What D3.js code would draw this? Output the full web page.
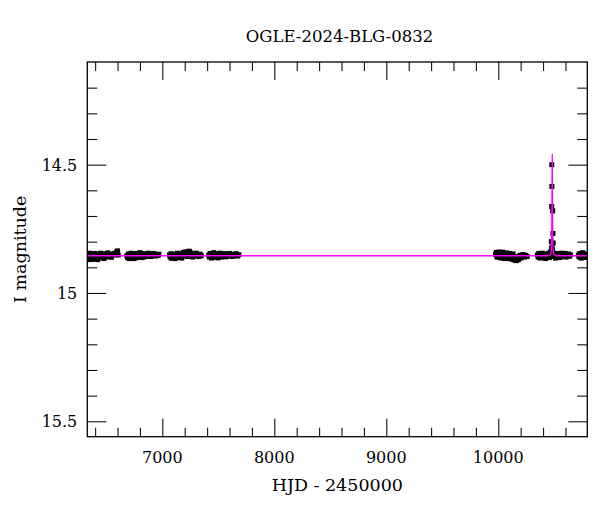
<!DOCTYPE html>
<html lang="en">
<head>
  <meta charset="UTF-8">
  <title>OGLE-2024-BLG-0832</title>
  <script src="https://d3js.org/d3.v7.min.js"></script>
  <style>
    body { margin: 0; background: #fff; }
    svg text { font-family: "DejaVu Serif", serif; fill: #000; }
  </style>
</head>
<body>
<svg id="chart" width="600" height="512"></svg>
<script>
  // photometry, [HJD - 2450000, I mag]
  const season1 = [[6338,14.866],[6344,14.870],[6350,14.845],[6356,14.858],[6362,14.868],[6368,14.848],[6374,14.856],[6380,14.869],[6386,14.851],[6392,14.860],[6398,14.846],[6405,14.864],[6411,14.853],[6417,14.858],[6423,14.870],[6429,14.849],[6436,14.857],[6442,14.863],[6448,14.845],[6454,14.855],[6460,14.861],[6467,14.850],[6473,14.858],[6479,14.866],[6486,14.847],[6492,14.854],[6499,14.860],[6506,14.852],[6513,14.844],[6520,14.858],[6528,14.849],[6536,14.855],[6545,14.861],[6556,14.850],[6568,14.846],[6580,14.852],[6592,14.840],[6600,14.836],[6606,14.852]];
  const season2 = [[6684,14.855],[6690,14.862],[6697,14.848],[6703,14.866],[6710,14.852],[6716,14.859],[6722,14.845],[6729,14.863],[6735,14.853],[6741,14.866],[6748,14.849],[6754,14.857],[6760,14.864],[6767,14.846],[6773,14.855],[6780,14.861],[6786,14.850],[6792,14.858],[6799,14.843],[6805,14.856],[6812,14.862],[6818,14.848],[6825,14.855],[6832,14.860],[6839,14.847],[6846,14.853],[6853,14.858],[6861,14.849],[6869,14.855],[6877,14.845],[6886,14.852],[6895,14.858],[6905,14.848],[6915,14.853],[6926,14.846],[6938,14.856],[6950,14.850],[6962,14.854],[6970,14.849]];
  const season3 = [[7064,14.852],[7070,14.860],[7077,14.847],[7083,14.865],[7090,14.855],[7096,14.862],[7103,14.849],[7109,14.858],[7116,14.866],[7122,14.851],[7129,14.857],[7135,14.845],[7142,14.862],[7148,14.853],[7155,14.859],[7161,14.847],[7168,14.855],[7174,14.864],[7181,14.850],[7187,14.842],[7194,14.856],[7200,14.848],[7207,14.840],[7213,14.852],[7220,14.845],[7226,14.858],[7233,14.840],[7240,14.837],[7247,14.842],[7255,14.846],[7263,14.853],[7272,14.860],[7281,14.848],[7291,14.855],[7302,14.845],[7314,14.852],[7326,14.858],[7338,14.849],[7348,14.855]];
  const season4 = [[7414,14.852],[7420,14.860],[7427,14.846],[7433,14.857],[7440,14.864],[7446,14.850],[7453,14.856],[7459,14.843],[7466,14.861],[7472,14.852],[7479,14.858],[7485,14.847],[7492,14.855],[7498,14.863],[7505,14.850],[7511,14.857],[7518,14.845],[7524,14.854],[7531,14.860],[7538,14.849],[7545,14.856],[7553,14.847],[7561,14.853],[7570,14.859],[7580,14.848],[7590,14.855],[7601,14.846],[7612,14.852],[7624,14.858],[7636,14.849],[7648,14.854],[7660,14.847],[7672,14.856],[7684,14.851]];
  const season5 = [[9976,14.850],[9982,14.842],[9988,14.860],[9994,14.846],[10000,14.855],[10006,14.840],[10012,14.862],[10018,14.850],[10024,14.843],[10030,14.864],[10036,14.852],[10042,14.841],[10048,14.858],[10054,14.847],[10060,14.866],[10066,14.855],[10072,14.844],[10078,14.861],[10084,14.850],[10090,14.866],[10096,14.857],[10102,14.846],[10108,14.864],[10114,14.852],[10120,14.868],[10126,14.858],[10132,14.848],[10138,14.870],[10144,14.862],[10150,14.872],[10156,14.864],[10162,14.874],[10168,14.868],[10174,14.858],[10180,14.870],[10187,14.862],[10194,14.853],[10202,14.864],[10210,14.856],[10220,14.850],[10232,14.860],[10245,14.853],[10258,14.858]];
  const season6 = [[10350,14.852],[10356,14.860],[10362,14.846],[10368,14.856],[10374,14.864],[10380,14.850],[10386,14.858],[10392,14.845],[10398,14.862],[10404,14.852],[10410,14.857],[10416,14.848],[10422,14.866],[10428,14.854],[10434,14.860],[10440,14.849],[10446,14.856],[10452,14.845],[10458,14.862],[10464,14.850],[10468,14.842],[10471,14.838],[10495,14.845],[10500,14.858],[10506,14.850],[10512,14.864],[10518,14.853],[10524,14.846],[10530,14.860],[10536,14.855],[10543,14.849],[10550,14.862],[10557,14.852],[10564,14.845],[10572,14.858],[10580,14.850],[10588,14.856],[10597,14.846],[10606,14.860],[10616,14.852],[10626,14.848],[10636,14.857],[10644,14.851]];
  const peak = [[10478,14.500],[10479,14.585],[10477,14.663],[10486,14.680],[10488,14.768],[10474,14.800],[10490,14.805],[10480,14.822],[10483,14.830],[10476,14.828]];
  const season7 = [[10715,14.852],[10722,14.860],[10728,14.846],[10735,14.857],[10741,14.864],[10748,14.850],[10754,14.843],[10760,14.858],[10767,14.852],[10773,14.862],[10780,14.848],[10786,14.856],[10792,14.850]];

  // fitted point-lens model (magenta), sampled from the plot
  const model = [[6330,14.855],[10440,14.855],[10462,14.852],[10470,14.845],[10475,14.820],[10478,14.740],[10480,14.600],[10482,14.460],[10484,14.600],[10486,14.740],[10489,14.820],[10494,14.845],[10502,14.852],[10525,14.855],[10795,14.855]];

  const xMajor = [7000, 8000, 9000, 10000];
  const yMajor = [14.5, 15, 15.5];

  const points = [].concat(season1, season2, season3, season4, season5, season6, peak, season7);

  const svg = d3.select("#chart");
  const margin = {top: 62, right: 12.7, bottom: 75.3, left: 87.3};
  const W = 600 - margin.left - margin.right;
  const H = 512 - margin.top - margin.bottom;

  const x = d3.scaleLinear().domain([6330, 10795]).range([0, W]);
  const y = d3.scaleLinear().domain([14.1, 15.56]).range([0, H]);

  const g = svg.append("g").attr("transform", `translate(${margin.left},${margin.top})`);

  svg.append("defs").append("clipPath").attr("id", "plot-clip")
    .append("rect").attr("width", W).attr("height", H);

  // ticks on all four sides, pointing inwards
  const xMinor = d3.range(6400, 10800, 200).filter(v => !xMajor.includes(v));
  const yMinor = d3.range(142, 156).map(v => v / 10).filter(v => !yMajor.includes(v));

  const tickStyle = sel => sel.selectAll("line").attr("stroke", "#111").attr("stroke-width", 1.1);

  g.append("g").attr("transform", `translate(0,${H})`)
    .call(d3.axisBottom(x).tickValues(xMajor).tickSize(-18).tickFormat(""))
    .call(sel => sel.select(".domain").remove()).call(tickStyle);
  g.append("g").attr("transform", `translate(0,${H})`)
    .call(d3.axisBottom(x).tickValues(xMinor).tickSize(-9).tickFormat(""))
    .call(sel => sel.select(".domain").remove()).call(tickStyle);
  g.append("g")
    .call(d3.axisTop(x).tickValues(xMajor).tickSize(-18).tickFormat(""))
    .call(sel => sel.select(".domain").remove()).call(tickStyle);
  g.append("g")
    .call(d3.axisTop(x).tickValues(xMinor).tickSize(-9).tickFormat(""))
    .call(sel => sel.select(".domain").remove()).call(tickStyle);

  g.append("g")
    .call(d3.axisLeft(y).tickValues(yMajor).tickSize(-19).tickFormat(""))
    .call(sel => sel.select(".domain").remove()).call(tickStyle);
  g.append("g")
    .call(d3.axisLeft(y).tickValues(yMinor).tickSize(-10).tickFormat(""))
    .call(sel => sel.select(".domain").remove()).call(tickStyle);
  g.append("g").attr("transform", `translate(${W},0)`)
    .call(d3.axisRight(y).tickValues(yMajor).tickSize(-19).tickFormat(""))
    .call(sel => sel.select(".domain").remove()).call(tickStyle);
  g.append("g").attr("transform", `translate(${W},0)`)
    .call(d3.axisRight(y).tickValues(yMinor).tickSize(-10).tickFormat(""))
    .call(sel => sel.select(".domain").remove()).call(tickStyle);

  // tick labels
  g.selectAll(".xlab").data(xMajor).join("text")
    .attr("x", d => x(d)).attr("y", H + 26)
    .attr("text-anchor", "middle").attr("font-size", 16)
    .text(d => d);
  g.selectAll(".ylab").data(yMajor).join("text")
    .attr("x", -10).attr("y", d => y(d) + 6)
    .attr("text-anchor", "end").attr("font-size", 16)
    .text(d => d);

  // data
  const plot = g.append("g").attr("clip-path", "url(#plot-clip)");
  plot.selectAll("rect").data(points).join("rect")
    .attr("x", d => x(d[0]) - 2.5).attr("y", d => y(d[1]) - 2.5)
    .attr("width", 5).attr("height", 5).attr("fill", "#000");

  plot.append("path").datum(model)
    .attr("d", d3.line().x(d => x(d[0])).y(d => y(d[1])).curve(d3.curveMonotoneX))
    .attr("fill", "none").attr("stroke", "#ff00ff").attr("stroke-width", 1.3);

  // frame
  g.append("rect").attr("width", W).attr("height", H)
    .attr("fill", "none").attr("stroke", "#000").attr("stroke-width", 1.3);

  // titles
  svg.append("text").attr("x", 339.5).attr("y", 42)
    .attr("text-anchor", "middle").attr("font-size", 16.5)
    .text("OGLE-2024-BLG-0832");
  svg.append("text").attr("x", margin.left + W / 2).attr("y", 491)
    .attr("text-anchor", "middle").attr("font-size", 17.5)
    .text("HJD - 2450000");
  svg.append("text").attr("transform", `translate(26,${margin.top + H / 2}) rotate(-90)`)
    .attr("text-anchor", "middle").attr("font-size", 17.5)
    .text("I magnitude");
</script>
</body>
</html>
